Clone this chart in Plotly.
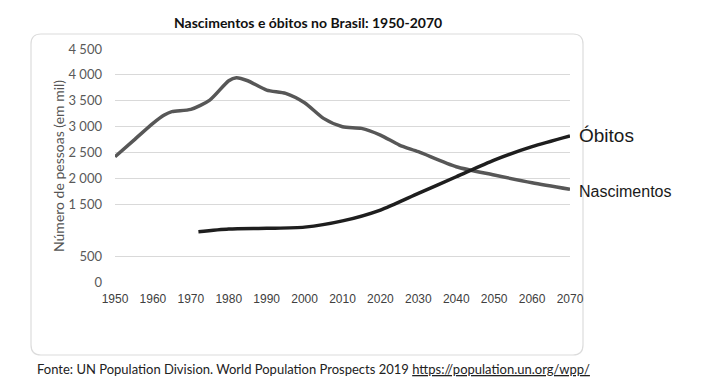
import plotly.graph_objects as go

# ---- data (values in thousands) ----
anos_nasc = [1950, 1955, 1960, 1963, 1965, 1970, 1975, 1980, 1982, 1985, 1990, 1995,
             2000, 2005, 2010, 2015, 2020, 2025, 2030, 2040, 2050, 2060, 2070]
nascimentos = [2420, 2740, 3064, 3225, 3290, 3335, 3514, 3887, 3945, 3887, 3707, 3643,
               3462, 3160, 2999, 2967, 2838, 2645, 2516, 2226, 2066, 1917, 1790]

anos_obitos = [1972, 1980, 1990, 2000, 2010, 2020, 2030, 2040, 2050, 2060, 2070]
obitos = [971, 1023, 1037, 1060, 1180, 1390, 1712, 2033, 2356, 2613, 2820]

x_ticks = [1950, 1960, 1970, 1980, 1990, 2000, 2010, 2020, 2030, 2040, 2050, 2060, 2070]
y_ticks = [0, 500, 1500, 2000, 2500, 3000, 3500, 4000, 4500]
y_ticktext = ["0", "500", "1 500", "2 000", "2 500", "3 000", "3 500", "4 000", "4 500"]

W, H = 719, 392
L, R, T, B = 115, 570, 49, 282  # plot area in pixels


def px(x):
    return (x - L) / (R - L)


def py(y):
    return (B - y) / (B - T)


fig = go.Figure()
fig.add_trace(go.Scatter(x=anos_nasc, y=nascimentos, mode="lines", name="Nascimentos",
                         line=dict(color="#575757", width=3.5, shape="spline", smoothing=0.7),
                         showlegend=False))
fig.add_trace(go.Scatter(x=anos_obitos, y=obitos, mode="lines", name="Óbitos",
                         line=dict(color="#1e1e1e", width=3.5, shape="spline", smoothing=0.7),
                         showlegend=False))

# rounded border box
bl, br, bt, bb, r = 31, 583, 34, 355, 10
path = (f"M {px(bl + r)} {py(bt)} L {px(br - r)} {py(bt)} "
        f"Q {px(br)} {py(bt)} {px(br)} {py(bt + r)} "
        f"L {px(br)} {py(bb - r)} Q {px(br)} {py(bb)} {px(br - r)} {py(bb)} "
        f"L {px(bl + r)} {py(bb)} Q {px(bl)} {py(bb)} {px(bl)} {py(bb - r)} "
        f"L {px(bl)} {py(bt + r)} Q {px(bl)} {py(bt)} {px(bl + r)} {py(bt)} Z")
fig.add_shape(type="path", path=path, xref="paper", yref="paper",
              line=dict(color="#dcdcdc", width=1.2), layer="below")

ann = []
ann.append(dict(text="<b>Nascimentos e óbitos no Brasil: 1950-2070</b>", x=px(308), y=py(23),
                xref="paper", yref="paper", showarrow=False, xanchor="center", yanchor="middle",
                font=dict(family="Lato", size=14, color="#111111")))
ann.append(dict(text="Número de pessoas (em mil)", x=px(58), y=py(166), xref="paper", yref="paper",
                showarrow=False, textangle=-90, xanchor="center", yanchor="middle",
                font=dict(family="Lato", size=14, color="#555555")))
ann.append(dict(text="Óbitos", x=px(577), y=py(135), xref="paper", yref="paper",
                xanchor="left", yanchor="middle", showarrow=False,
                font=dict(family="Liberation Sans", size=19, color="#1a1a1a")))
ann.append(dict(text="Nascimentos", x=px(577), y=py(191), xref="paper", yref="paper",
                xanchor="left", yanchor="middle", showarrow=False,
                font=dict(family="Liberation Sans", size=16, color="#1a1a1a")))
ann.append(dict(text="Fonte: UN Population Division. World Population Prospects 2019 "
                     "<u>https://population.un.org/wpp/</u>",
                x=px(35), y=py(369), xref="paper", yref="paper", xanchor="left", yanchor="middle",
                showarrow=False, font=dict(family="Lato", size=13, color="#222222")))

fig.update_layout(
    width=W, height=H,
    margin=dict(l=L, r=W - R, t=T, b=H - B),
    paper_bgcolor="white", plot_bgcolor="white",
    annotations=ann,
    xaxis=dict(range=[1950, 2070], tickvals=x_ticks, showgrid=False, zeroline=False,
               showline=False, ticks="", ticklabelstandoff=8,
               tickfont=dict(family="Liberation Sans", size=12, color="#404040")),
    yaxis=dict(range=[0, 4500], tickvals=y_ticks, ticktext=y_ticktext, showgrid=True,
               gridcolor="#d9d9d9", gridwidth=1, zeroline=False, showline=False, ticks="",
               ticklabelstandoff=12,
               tickfont=dict(family="Lato", size=13, color="#595959")),
)

fig.write_html("out.html")
